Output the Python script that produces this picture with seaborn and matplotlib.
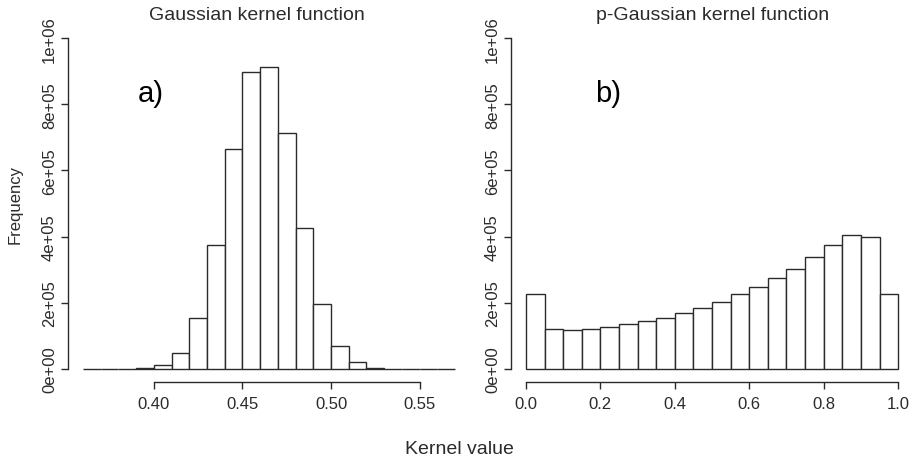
import numpy as np
import matplotlib
matplotlib.use("Agg")
import matplotlib.pyplot as plt
import seaborn as sns

# bin edges (left) and counts
gauss_left = [0.36, 0.37, 0.38, 0.39, 0.40, 0.41, 0.42, 0.43, 0.44, 0.45, 0.46,
              0.47, 0.48, 0.49, 0.50, 0.51, 0.52, 0.53, 0.54, 0.55, 0.56]
gauss_counts = [0, 0, 0, 1500, 10000, 48000, 155000, 374000, 665000, 899000, 914000,
                713000, 426000, 196000, 68000, 19000, 3000, 500, 0, 0, 0]
gauss_width = 0.01

pg_left = [0.00, 0.05, 0.10, 0.15, 0.20, 0.25, 0.30, 0.35, 0.40, 0.45,
           0.50, 0.55, 0.60, 0.65, 0.70, 0.75, 0.80, 0.85, 0.90, 0.95]
pg_counts = [225000, 121000, 117000, 121000, 126000, 134000, 144000, 155000, 168000, 184000,
             202000, 225000, 247000, 274000, 302000, 339000, 374000, 404000, 400000, 225000]
pg_width = 0.05

y_ticks = [0, 200000, 400000, 600000, 800000, 1000000]
y_labels = ["0e+00", "2e+05", "4e+05", "6e+05", "8e+05", "1e+06"]
gauss_xticks = [0.40, 0.45, 0.50, 0.55]
gauss_xlabels = ["0.40", "0.45", "0.50", "0.55"]
pg_xticks = [0.0, 0.2, 0.4, 0.6, 0.8, 1.0]
pg_xlabels = ["0.0", "0.2", "0.4", "0.6", "0.8", "1.0"]

sns.set_style("ticks")
plt.rcParams["font.family"] = ["Liberation Sans", "DejaVu Sans"]
ink = "#2b2b2b"

fig = plt.figure(figsize=(9.1, 4.6), dpi=100)
W, H = 910, 460


def panel(left_px, right_px, lefts, counts, width, xticks, xlabels, title, title_x, tag, tag_x):
    ax = fig.add_axes([left_px / W, 1 - 383 / H, (right_px - left_px) / W, (383 - 26) / H])
    edges = list(lefts) + [lefts[-1] + width]
    mids = [l + width / 2 for l in lefts]
    sns.histplot(x=mids, weights=counts, bins=edges, ax=ax, color="white",
                 edgecolor=ink, linewidth=1.0, alpha=1)
    lo, hi = edges[0], edges[-1]
    pad = (hi - lo) * 0.04
    ax.set_xlim(lo - pad, hi + pad)
    ax.set_ylim(-40000, 1040000)
    for s in ["top", "right"]:
        ax.spines[s].set_visible(False)
    ax.spines["left"].set_bounds(0, 1000000)
    ax.spines["bottom"].set_bounds(xticks[0], xticks[-1])
    for s in ["left", "bottom"]:
        ax.spines[s].set_color(ink)
        ax.spines[s].set_linewidth(1.0)
    ax.set_yticks(y_ticks)
    ax.set_yticklabels(y_labels, rotation=90, va="center", fontsize=12, color=ink)
    ax.set_xticks(xticks)
    ax.set_xticklabels(xlabels, fontsize=12, color=ink)
    ax.tick_params(axis="both", length=5, width=1.0, color=ink)
    ax.tick_params(axis="y", pad=3)
    ax.tick_params(axis="x", pad=5)
    ax.set_xlabel("")
    ax.set_ylabel("")
    ax.set_title(title, fontsize=14, color=ink, x=title_x, pad=4)
    ax.text(tag_x, 810000, tag, fontsize=21, color="black", ha="left", va="baseline")
    return ax


panel(68, 470, gauss_left, gauss_counts, gauss_width, gauss_xticks, gauss_xlabels,
      "Gaussian kernel function", 0.47, "a)", 0.391)
panel(511, 913, pg_left, pg_counts, pg_width, pg_xticks, pg_xlabels,
      "p-Gaussian kernel function", 0.502, "b)", 0.185)

fig.text(15 / W, 1 - 205 / H, "Frequency", rotation=90, ha="center", va="center",
         fontsize=12, color=ink)
fig.text(459 / W, 1 - 450 / H, "Kernel value", ha="center", va="center",
         fontsize=14, color=ink)

fig.savefig("out.png", dpi=100)
